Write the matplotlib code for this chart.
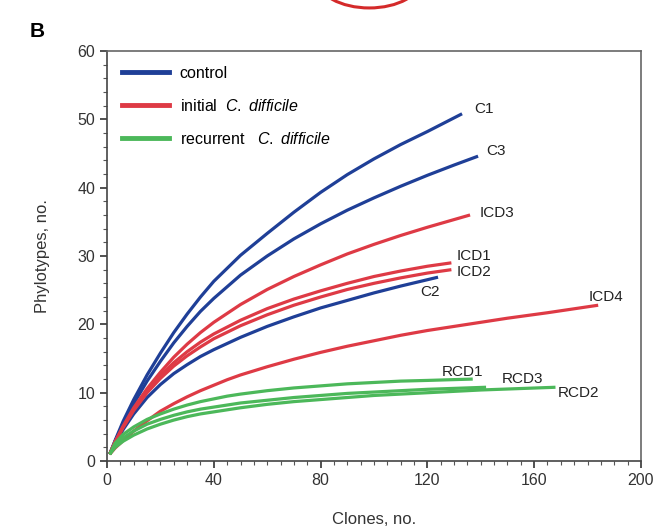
import matplotlib.pyplot as plt
from matplotlib.patches import Arc
from matplotlib.ticker import MultipleLocator

plt.rcParams['font.family'] = ['Liberation Sans', 'DejaVu Sans']
plt.rcParams['mathtext.fontset'] = 'custom'
plt.rcParams['mathtext.it'] = 'Liberation Sans:italic'
plt.rcParams['mathtext.rm'] = 'Liberation Sans'

# Rarefaction curves (clones, phylotypes)
c1_x = [1, 3, 6, 10, 15, 20, 25, 30, 35, 40, 50, 60, 70, 80, 90, 100, 110, 120, 133]
c1_y = [1, 3.0, 5.8, 9.0, 12.6, 15.8, 18.8, 21.5, 24.0, 26.3, 30.1, 33.3, 36.4, 39.3, 41.9, 44.2, 46.3, 48.2, 50.8]
c3_x = [1, 3, 6, 10, 15, 20, 25, 30, 35, 40, 50, 60, 70, 80, 90, 100, 110, 120, 130, 139]
c3_y = [1, 2.9, 5.4, 8.4, 11.7, 14.6, 17.3, 19.7, 21.9, 23.8, 27.2, 30.0, 32.5, 34.7, 36.7, 38.5, 40.2, 41.8, 43.3, 44.6]
c2_x = [1, 3, 6, 10, 15, 20, 25, 30, 35, 40, 50, 60, 70, 80, 90, 100, 110, 124]
c2_y = [1, 2.6, 4.6, 6.9, 9.3, 11.2, 12.8, 14.1, 15.3, 16.3, 18.1, 19.7, 21.1, 22.4, 23.5, 24.6, 25.6, 26.9]

icd3_x = [1, 3, 6, 10, 15, 20, 25, 30, 35, 40, 50, 60, 70, 80, 90, 100, 110, 120, 136]
icd3_y = [1, 2.8, 5.1, 7.8, 10.6, 13.0, 15.2, 17.1, 18.8, 20.3, 22.9, 25.1, 27.0, 28.7, 30.3, 31.7, 33.0, 34.2, 36]
icd1_x = [1, 3, 6, 10, 15, 20, 25, 30, 35, 40, 50, 60, 70, 80, 90, 100, 110, 120, 129]
icd1_y = [1, 2.8, 5.0, 7.6, 10.3, 12.5, 14.4, 16.0, 17.4, 18.6, 20.6, 22.3, 23.7, 24.9, 26.0, 27.0, 27.8, 28.5, 29.0]
icd2_x = [1, 3, 6, 10, 15, 20, 25, 30, 35, 40, 50, 60, 70, 80, 90, 100, 110, 120, 129]
icd2_y = [1, 2.7, 4.9, 7.4, 10.0, 12.1, 13.9, 15.4, 16.7, 17.9, 19.8, 21.4, 22.8, 24.0, 25.1, 26.0, 26.8, 27.5, 28.0]
icd4_x = [1, 3, 6, 10, 15, 20, 25, 30, 35, 40, 45, 50, 60, 70, 80, 90, 100, 110, 120, 135, 150, 165, 184]
icd4_y = [1, 1.9, 3.0, 4.4, 5.9, 7.3, 8.4, 9.4, 10.3, 11.1, 11.9, 12.6, 13.8, 14.9, 15.9, 16.8, 17.6, 18.4, 19.1, 20.0, 20.9, 21.7, 22.8]

rcd1_x = [1, 3, 6, 10, 15, 20, 25, 30, 35, 40, 45, 50, 60, 70, 80, 90, 100, 110, 120, 137]
rcd1_y = [1, 2.6, 3.9, 5.0, 6.1, 6.9, 7.6, 8.2, 8.7, 9.1, 9.5, 9.8, 10.3, 10.7, 11.0, 11.3, 11.5, 11.7, 11.8, 12.0]
rcd3_x = [1, 3, 6, 10, 15, 20, 25, 30, 35, 40, 45, 50, 60, 70, 80, 90, 100, 110, 120, 142]
rcd3_y = [1, 2.3, 3.4, 4.4, 5.4, 6.1, 6.7, 7.2, 7.6, 7.9, 8.2, 8.5, 8.9, 9.3, 9.6, 9.9, 10.1, 10.3, 10.5, 10.8]
rcd2_x = [1, 3, 6, 10, 15, 20, 25, 30, 35, 40, 45, 50, 60, 70, 80, 90, 100, 110, 120, 140, 168]
rcd2_y = [1, 2.0, 2.9, 3.8, 4.7, 5.4, 6.0, 6.5, 6.9, 7.2, 7.5, 7.8, 8.3, 8.7, 9.0, 9.3, 9.6, 9.8, 10.0, 10.4, 10.8]

blue = '#1f3f97'
red = '#de3a45'
green = '#4cb85a'

# name, x, y, colour, label position
curves = [
    ("C1", c1_x, c1_y, blue, (137.5, 51.5)),
    ("C3", c3_x, c3_y, blue, (142, 45.3)),
    ("C2", c2_x, c2_y, blue, (117.5, 24.7)),
    ("ICD3", icd3_x, icd3_y, red, (139.5, 36.3)),
    ("ICD1", icd1_x, icd1_y, red, (131, 30.0)),
    ("ICD2", icd2_x, icd2_y, red, (131, 27.6)),
    ("ICD4", icd4_x, icd4_y, red, (180.5, 24.0)),
    ("RCD1", rcd1_x, rcd1_y, green, (125.5, 13.0)),
    ("RCD3", rcd3_x, rcd3_y, green, (148, 12.0)),
    ("RCD2", rcd2_x, rcd2_y, green, (169, 10.0)),
]

fig = plt.figure(figsize=(6.69, 5.30), dpi=100)
ax = fig.add_axes([0.160, 0.130, 0.798, 0.774])

for name, xs, ys, col, pos in curves:
    ax.plot(xs, ys, color=col, lw=2.3, solid_capstyle='butt', solid_joinstyle='round')
    ax.text(pos[0], pos[1], name, fontsize=11, color='#222222', va='center', ha='left')

# legend entries
h1, = ax.plot([], [], color=blue, lw=3.5)
h2, = ax.plot([], [], color=red, lw=3.5)
h3, = ax.plot([], [], color=green, lw=3.5)
ax.legend([h1, h2, h3],
          ['control', r'initial  $\mathit{C.\ difficile}$', r'recurrent   $\mathit{C.\ difficile}$'],
          loc='upper left', bbox_to_anchor=(0.0, 1.0), frameon=False, fontsize=11.5,
          handlelength=2.9, handletextpad=0.7, labelspacing=1.05, borderaxespad=0.55)

ax.set_xlim(0, 200)
ax.set_ylim(0, 60)
ax.xaxis.set_major_locator(MultipleLocator(40))
ax.xaxis.set_minor_locator(MultipleLocator(5))
ax.yaxis.set_major_locator(MultipleLocator(10))
ax.yaxis.set_minor_locator(MultipleLocator(2))
ax.tick_params(which='major', direction='out', length=5, width=1.2, labelsize=11.5, colors='#333333')
ax.tick_params(which='minor', direction='out', length=3, width=0.8, colors='#555555')
ax.tick_params(top=False, right=False, which='both')
for s in ax.spines.values():
    s.set_color('#666666')
    s.set_linewidth(1.2)
ax.spines['left'].set_color('#444444')
ax.spines['bottom'].set_color('#444444')

ax.set_xlabel('Clones, no.', fontsize=12, color='#333333', labelpad=17)
ax.set_ylabel('Phylotypes, no.', fontsize=12, color='#333333', labelpad=20)

fig.text(0.045, 0.94, 'B', fontsize=15, fontweight='bold', ha='left', va='center')
# partial red circle from the panel above
fig.patches.append(Arc((0.552, 1.04), 0.156, 0.11, theta1=180, theta2=360,
                       transform=fig.transFigure, color='#d42a2a', lw=2.2))

fig.savefig('out.png', dpi=100)
